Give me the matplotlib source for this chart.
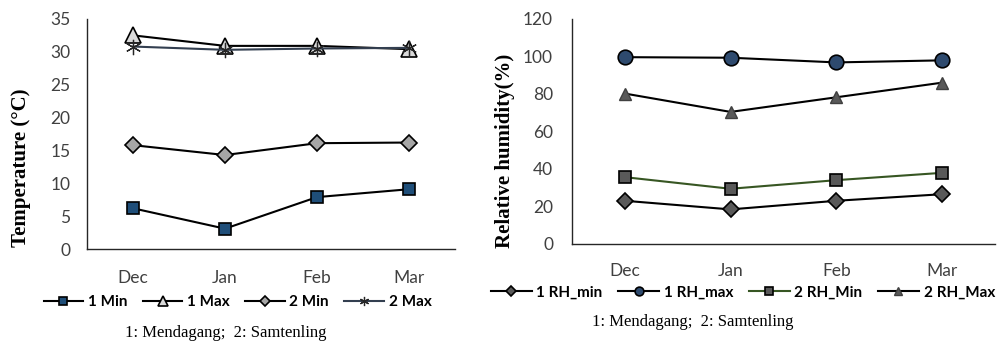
import matplotlib.pyplot as plt

months = ["Dec", "Jan", "Feb", "Mar"]

# temperatur (°C)
min_1 = [6.2, 3.1, 7.9, 9.1]
max_1 = [32.5, 30.9, 30.9, 30.4]
min_2 = [15.8, 14.3, 16.1, 16.2]
max_2 = [30.8, 30.3, 30.5, 30.6]

# relativ fuktighet (%)
rh_min_1 = [23.0, 18.4, 23.0, 26.5]
rh_max_1 = [99.6, 99.3, 96.8, 97.9]
rh_min_2 = [35.6, 29.4, 34.0, 37.9]
rh_max_2 = [80.2, 70.4, 78.2, 86.0]

caption = "1: Mendagang;  2: Samtenling"

tick_font = "Lato"
serif = "Liberation Serif"

fig = plt.figure(figsize=(9.98, 3.44), dpi=100)
ax1 = fig.add_axes([0.0872, 0.276, 0.3687, 0.669])
ax2 = fig.add_axes([0.573, 0.291, 0.424, 0.654])

x = range(len(months))

# venstre: temperatur
ax1.plot(x, min_1, color="black", lw=1.5, marker="s", ms=8.5,
         mfc="#1f4e79", mec="black", mew=1.2, label="1 Min")
ax1.plot(x, max_1, color="black", lw=1.5, marker="^", ms=12,
         mfc="#d9d9d9", mec="black", mew=1.2, label="1 Max")
ax1.plot(x, min_2, color="black", lw=1.5, marker="D", ms=8.5,
         mfc="#a6a6a6", mec="black", mew=1.2, label="2 Min")
ax1.plot(x, max_2, color="#333f50", lw=1.5, marker=(6, 2, 0), ms=11,
         mec="#262626", mew=0.9, label="2 Max")
ax1.set_ylim(0, 35)
ax1.set_yticks(range(0, 36, 5))
ax1.set_ylabel("Temperature (°C)", family=serif, fontweight="bold", fontsize=15)
ax1.yaxis.set_label_coords(-0.152, 0.355)

# høyre: relativ fuktighet
ax2.plot(x, rh_min_1, color="black", lw=1.5, marker="D", ms=8.5,
         mfc="#595959", mec="black", mew=1.2, label="1 RH_min")
ax2.plot(x, rh_max_1, color="black", lw=1.5, marker="o", ms=10.5,
         mfc="#2e4a6e", mec="black", mew=1.2, label="1 RH_max")
ax2.plot(x, rh_min_2, color="#375623", lw=1.5, marker="s", ms=8.5,
         mfc="#595959", mec="black", mew=1.2, label="2 RH_Min")
ax2.plot(x, rh_max_2, color="black", lw=1.5, marker="^", ms=9,
         mfc="#595959", mec="#404040", mew=1.0, label="2 RH_Max")
ax2.set_ylim(0, 120)
ax2.set_yticks(range(0, 121, 20))
ax2.set_ylabel("Relative humidity(%)", family=serif, fontweight="bold", fontsize=15)
ax2.yaxis.set_label_coords(-0.135, 0.415)

for ax, xpad, ypad in [(ax1, 15, 12), (ax2, 14, 13.5)]:
    ax.set_xlim(-0.5, 3.5)
    ax.set_xticks(list(x))
    ax.set_xticklabels(months)
    for s in ["top", "right"]:
        ax.spines[s].set_visible(False)
    for s in ["left", "bottom"]:
        ax.spines[s].set_color("#262626")
        ax.spines[s].set_linewidth(1.0)
    ax.tick_params(axis="x", length=0, pad=xpad, labelsize=12.5, labelcolor="#404040")
    ax.tick_params(axis="y", length=0, pad=ypad, labelsize=12.5, labelcolor="#404040")
    for t in ax.get_xticklabels() + ax.get_yticklabels():
        t.set_family(tick_font)

leg_props = {"family": tick_font, "weight": "bold", "size": 11}
ax1.legend(loc="center", bbox_to_anchor=(0.409, -0.23), ncol=4, frameon=False,
           prop=leg_props, handlelength=2.6, handletextpad=0.3, columnspacing=1.0,
           markerscale=0.6, borderaxespad=0)
ax2.legend(loc="center", bbox_to_anchor=(0.404, -0.215), ncol=4, frameon=False,
           prop=leg_props, handlelength=2.7, handletextpad=0.3, columnspacing=1.0,
           markerscale=0.6, borderaxespad=0)

fig.text(226 / 998, 1 - 333 / 344, caption, family=serif, fontsize=12,
         ha="center", va="center")
fig.text(693 / 998, 1 - 322 / 344, caption, family=serif, fontsize=12,
         ha="center", va="center")

fig.savefig("out.png", dpi=100)
